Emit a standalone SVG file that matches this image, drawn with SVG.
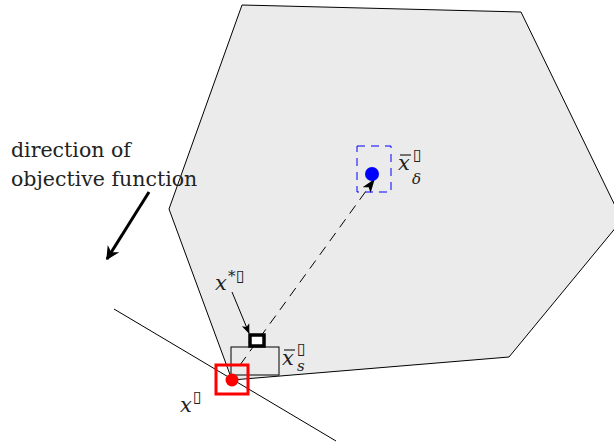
<svg xmlns="http://www.w3.org/2000/svg" width="614" height="443" viewBox="0 0 614 443">
<style>
.t{font-family:"DejaVu Serif","Liberation Serif",serif;font-size:20.5px;fill:#222}
.m{font-family:"DejaVu Serif","Liberation Serif",serif;font-style:italic;font-size:21px;fill:#222}
.s{font-family:"DejaVu Serif","Liberation Serif",serif;font-style:italic;font-size:15px;fill:#222}
.box{font-family:"DejaVu Sans",sans-serif;font-size:16px;fill:#222}
.bar{stroke:#222;stroke-width:1.2}
</style>
<defs>
<marker id="ah" viewBox="0 0 10 10" refX="9" refY="5" markerWidth="4.5" markerHeight="4.5" orient="auto" markerUnits="strokeWidth"><path d="M0,0 L10,5 L0,10 L3,5 z" fill="#000"/></marker>
<marker id="ah2" viewBox="0 0 10 10" refX="9" refY="5" markerWidth="10" markerHeight="10" orient="auto" markerUnits="strokeWidth"><path d="M0,1 L10,5 L0,9 L2.5,5 z" fill="#000"/></marker>
<marker id="ah3" viewBox="0 0 10 10" refX="9" refY="5" markerWidth="14" markerHeight="14" orient="auto" markerUnits="strokeWidth"><path d="M0,1.5 L10,5 L0,8.5 L2.5,5 z" fill="#000"/></marker>
</defs>
<g id="polytope"><polygon points="242,5 521,12 622,220 509,357 232,380 169,209" fill="#ebebeb" stroke="#000" stroke-width="1"/></g>
<g id="connectors">
<line x1="114" y1="309" x2="336" y2="441" stroke="#000" stroke-width="1"/>
<line x1="149" y1="192" x2="107" y2="259" stroke="#000" stroke-width="3" marker-end="url(#ah)"/>
<line x1="240" y1="365" x2="374" y2="180" stroke="#000" stroke-width="1" stroke-dasharray="10,7" marker-end="url(#ah3)"/>
<line x1="232" y1="292" x2="249" y2="333" stroke="#000" stroke-width="1" marker-end="url(#ah2)"/>
</g>
<g id="delta-box"><rect x="357" y="146" width="34" height="46" fill="none" stroke="#0000ff" stroke-width="1" stroke-dasharray="8,6"/><circle cx="372" cy="174" r="7" fill="#0000ff"/></g>
<g id="s-box"><rect x="231" y="347" width="48" height="28" fill="none" stroke="#000" stroke-width="1"/></g>
<g id="xstar"><rect x="250" y="335" width="14" height="11" fill="#fff" stroke="#000" stroke-width="3.5"/></g>
<g id="xopt"><rect x="216" y="365" width="32" height="29" fill="none" stroke="#ff0000" stroke-width="3"/><circle cx="232" cy="380" r="6.5" fill="#ff0000"/></g>
<g id="labels">
<text class="t" x="11" y="157">direction of</text>
<text class="t" x="11" y="186">objective function</text>
<line class="bar" x1="400" y1="155" x2="411" y2="155"/><text class="m" x="398" y="170">x</text><text class="box" x="413" y="160">▯</text><text class="s" x="412" y="184">δ</text>
<line class="bar" x1="284" y1="350" x2="295" y2="350"/><text class="m" x="282" y="365">x</text><text class="box" x="297" y="354">▯</text><text class="s" x="297" y="371">s</text>
<text class="m" x="215" y="290">x</text><text class="s" x="228" y="281">*</text><text class="box" x="236" y="281">▯</text>
<text class="m" x="180" y="412">x</text><text class="box" x="193" y="402">▯</text>
</g>
</svg>
